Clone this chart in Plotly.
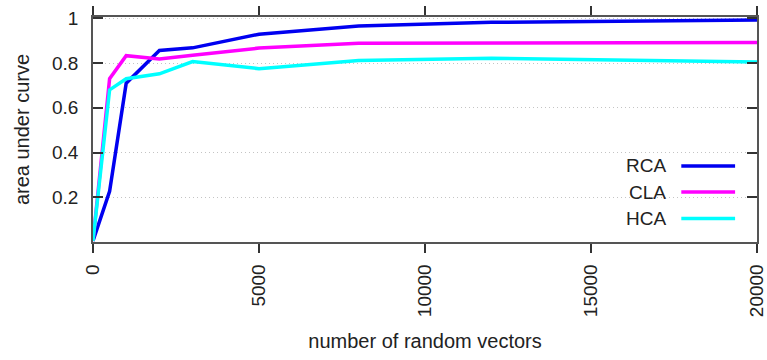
import plotly.graph_objects as go

# Number of random vectors used for each run
n_vectors = [0, 500, 1000, 2000, 3000, 5000, 8000, 12000, 20000]

# Area under the ROC curve for each method
rca_auc = [0.005, 0.227, 0.71, 0.856, 0.868, 0.929, 0.966, 0.982, 0.993]
cla_auc = [0.005, 0.73, 0.833, 0.818, 0.835, 0.867, 0.889, 0.889, 0.892]
hca_auc = [0.005, 0.68, 0.73, 0.752, 0.807, 0.775, 0.812, 0.822, 0.805]

series_names = ["RCA", "CLA", "HCA"]
series_colors = ["#0000f0", "#ff00ff", "#00ffff"]

y_tick_vals = [0.2, 0.4, 0.6, 0.8, 1.0]
y_tick_text = ["0.2", "0.4", "0.6", "0.8", "1"]
x_tick_vals = [0, 5000, 10000, 15000, 20000]
x_tick_text = ["0", "5000", "10000", "15000", "20000"]

FONT = "Liberation Sans, Arial, sans-serif"
TXT = "#222222"
TICK_SIZE = 19
TITLE_SIZE = 20

fig = go.Figure()
for name, vals, col in zip(series_names, [rca_auc, cla_auc, hca_auc], series_colors):
    fig.add_trace(go.Scatter(
        x=n_vectors, y=vals, mode="lines", name=name,
        line=dict(color=col, width=3.5), showlegend=False,
    ))

# Legend drawn in the lower-right corner: label on the left, line sample on the right
leg_y = [0.338, 0.222, 0.104]
for name, col, yy in zip(series_names, series_colors, leg_y):
    fig.add_annotation(
        xref="paper", yref="paper", x=0.866, y=yy, text=name,
        showarrow=False, xanchor="right", yanchor="middle",
        font=dict(family=FONT, size=TICK_SIZE, color=TXT),
    )
    fig.add_shape(
        type="line", xref="paper", yref="paper",
        x0=0.886, x1=0.967, y0=yy, y1=yy,
        line=dict(color=col, width=3.5),
    )

fig.update_layout(
    width=767, height=360,
    margin=dict(l=93, r=10, t=17, b=118),
    paper_bgcolor="white", plot_bgcolor="white",
    font=dict(family=FONT, size=TICK_SIZE, color=TXT),
)
fig.update_xaxes(
    range=[0, 20000], tickvals=x_tick_vals, ticktext=x_tick_text, tickangle=-90,
    automargin=False, ticklabeloverflow="allow",
    showgrid=False, zeroline=False,
    showline=True, linecolor="#555555", linewidth=1.5, mirror="ticks",
    ticks="outside", ticklen=9, tickwidth=1.5, tickcolor="#333333",
    ticklabelstandoff=4,
    tickfont=dict(family=FONT, size=TICK_SIZE, color=TXT),
    title=dict(text="number of random vectors", standoff=18,
               font=dict(family=FONT, size=TITLE_SIZE, color=TXT)),
)
fig.update_yaxes(
    range=[0, 1.006], tickvals=y_tick_vals, ticktext=y_tick_text,
    automargin=False,
    showgrid=True, gridcolor="#c4c4c4", gridwidth=1, griddash="1px,3px",
    zeroline=False,
    showline=True, linecolor="#555555", linewidth=1.5, mirror="ticks",
    ticks="inside", ticklen=10, tickwidth=1.5, tickcolor="#333333",
    ticklabelstandoff=9,
    tickfont=dict(family=FONT, size=TICK_SIZE, color=TXT),
    title=dict(text="area under curve", standoff=17,
               font=dict(family=FONT, size=TITLE_SIZE, color=TXT)),
)

fig.write_html("out.html")
